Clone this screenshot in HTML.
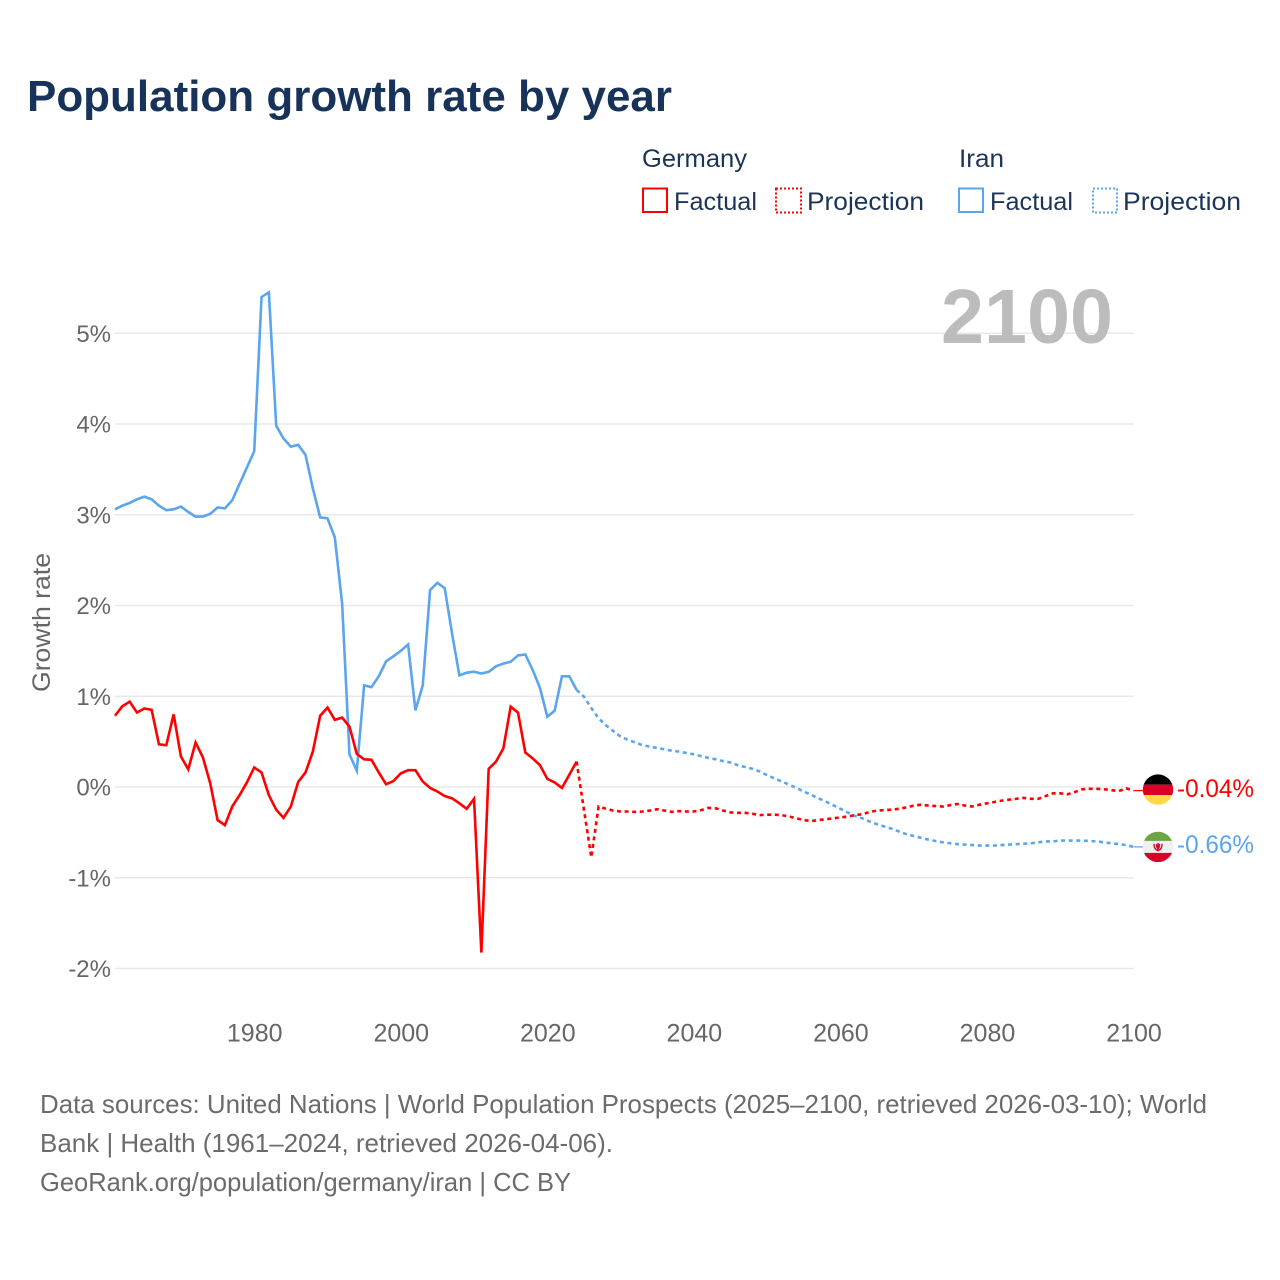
<!DOCTYPE html>
<html lang="en">
<head>
<meta charset="utf-8">
<title>Population growth rate by year</title>
<style>
  html, body { margin: 0; padding: 0; background: #fff; }
  body { width: 1280px; height: 1280px; overflow: hidden; }
  svg { display: block; }
  text { font-family: "Liberation Sans", sans-serif; }
</style>
</head>
<body>
<svg id="chart" xmlns="http://www.w3.org/2000/svg" width="1280" height="1280" viewBox="0 0 1280 1280">
  <defs>
    <clipPath id="flag-clip"><circle cx="0" cy="0" r="15.2"></circle></clipPath>
  </defs>
  <rect x="0" y="0" width="1280" height="1280" fill="#ffffff"></rect>

  <text x="27" y="111" font-size="44" font-weight="700" fill="#17335a" textLength="645" lengthAdjust="spacingAndGlyphs">Population growth rate by year</text>

  <g font-size="25" fill="#1b3557">
    <text x="642" y="167" textLength="105" lengthAdjust="spacingAndGlyphs">Germany</text>
    <text x="959" y="167" textLength="45" lengthAdjust="spacingAndGlyphs">Iran</text>

    <g>
      <rect x="643" y="188.500" width="24" height="23.500" fill="none" stroke="#ff0000" stroke-width="2"></rect>
      <text x="674" y="210" textLength="83" lengthAdjust="spacingAndGlyphs">Factual</text>
    </g>
    <g>
      <rect x="776" y="188.500" width="25" height="24" fill="none" stroke="#ff0000" stroke-width="2" stroke-dasharray="2 2"></rect>
      <text x="807" y="210" textLength="117" lengthAdjust="spacingAndGlyphs">Projection</text>
    </g>
    <g>
      <rect x="959" y="188.500" width="24" height="23.500" fill="none" stroke="#5ba5ee" stroke-width="2"></rect>
      <text x="990" y="210" textLength="83" lengthAdjust="spacingAndGlyphs">Factual</text>
    </g>
    <g>
      <rect x="1093" y="188.500" width="24" height="24" fill="none" stroke="#5ba5ee" stroke-width="2" stroke-dasharray="2 2"></rect>
      <text x="1123" y="210" textLength="118" lengthAdjust="spacingAndGlyphs">Projection</text>
    </g>
  </g>

  <g id="grid"></g>
  <g id="y-ticks"></g>
  <g id="x-ticks"></g>

  <text transform="translate(50 692) rotate(-90)" font-size="25" fill="#666666" textLength="139" lengthAdjust="spacingAndGlyphs">Growth rate</text>

  <text x="941" y="343" font-size="77" font-weight="700" fill="#bcbcbc" textLength="172" lengthAdjust="spacingAndGlyphs">2100</text>

  <g id="series"></g>

  <g id="flag-germany">
    <g clip-path="url(#flag-clip)">
      <rect x="-16" y="-16" width="32" height="11" fill="#000000"></rect>
      <rect x="-16" y="-5" width="32" height="10.500" fill="#d80027"></rect>
      <rect x="-16" y="5.500" width="32" height="11" fill="#ffda44"></rect>
    </g>
  </g>
  <g id="flag-iran">
    <g clip-path="url(#flag-clip)">
      <rect x="-16" y="-16" width="32" height="11" fill="#6da544"></rect>
      <rect x="-16" y="-6" width="32" height="12" fill="#f0f0f0"></rect>
      <rect x="-16" y="6" width="32" height="11" fill="#d80027"></rect>
      <path d="M-4 -3 Q-4 3 0 3.500 Q4 3 4 -3 M-1.500 -3 Q-1.500 1 0 2 Q1.500 1 1.500 -3 M0 -4 V4.500" fill="none" stroke="#d80027" stroke-width="1.300"></path>
    </g>
  </g>
  <text id="label-germany" x="1177" font-size="25" fill="#ff0000" textLength="77" lengthAdjust="spacingAndGlyphs"></text>
  <text id="label-iran" x="1177" font-size="25" fill="#5ba5ee" textLength="77" lengthAdjust="spacingAndGlyphs"></text>

  <g font-size="26" fill="#6b6b6b">
    <text x="40" y="1113" textLength="1167" lengthAdjust="spacingAndGlyphs">Data sources: United Nations | World Population Prospects (2025–2100, retrieved 2026-03-10); World</text>
    <text x="40" y="1152" textLength="573" lengthAdjust="spacingAndGlyphs">Bank | Health (1961–2024, retrieved 2026-04-06).</text>
    <text x="40" y="1191" textLength="531" lengthAdjust="spacingAndGlyphs">GeoRank.org/population/germany/iran | CC BY</text>
  </g>
</svg>

<script>
const factualStartYear = 1961;
const projectionStartYear = 2025;
const yTickValues = [5, 4, 3, 2, 1, 0, -1, -2];
const yTickLabels = ['5%', '4%', '3%', '2%', '1%', '0%', '-1%', '-2%'];
const xTickValues = [1980, 2000, 2020, 2040, 2060, 2080, 2100];
const xTickLabels = ['1980', '2000', '2020', '2040', '2060', '2080', '2100'];

const germanyFactual = [
  0.785, 0.89, 0.94, 0.82, 0.865, 0.85, 0.47, 0.46, 0.80, 0.335,
  0.195, 0.49, 0.325, 0.04, -0.365, -0.42, -0.215, -0.09, 0.05, 0.215,
  0.16, -0.09, -0.25, -0.34, -0.215, 0.055, 0.16, 0.39, 0.785, 0.875,
  0.74, 0.765, 0.665, 0.365, 0.305, 0.30, 0.16, 0.03, 0.065, 0.15,
  0.185, 0.185, 0.06, -0.01, -0.05, -0.10, -0.125, -0.18, -0.24, -0.13,
  -1.825, 0.20, 0.28, 0.425, 0.885, 0.82, 0.38, 0.315, 0.24, 0.09,
  0.05, -0.01, 0.135, 0.28
];
const germanyProjection = [
  -0.25, -0.775, -0.215, -0.24, -0.26, -0.27, -0.27, -0.275, -0.27, -0.26,
  -0.245, -0.26, -0.275, -0.265, -0.27, -0.27, -0.255, -0.23, -0.235, -0.26,
  -0.28, -0.285, -0.285, -0.295, -0.31, -0.305, -0.305, -0.31, -0.325, -0.345,
  -0.365, -0.375, -0.365, -0.355, -0.345, -0.335, -0.325, -0.31, -0.30, -0.275,
  -0.26, -0.255, -0.25, -0.24, -0.225, -0.205, -0.195, -0.205, -0.21, -0.215,
  -0.20, -0.187, -0.205, -0.215, -0.195, -0.18, -0.165, -0.15, -0.14, -0.13,
  -0.12, -0.13, -0.13, -0.10, -0.07, -0.07, -0.08, -0.055, -0.025, -0.02,
  -0.02, -0.025, -0.035, -0.045, -0.015, -0.04
];
const iranFactual = [
  3.06, 3.10, 3.13, 3.17, 3.20, 3.17, 3.10, 3.05, 3.06, 3.09,
  3.03, 2.98, 2.98, 3.01, 3.08, 3.07, 3.16, 3.34, 3.52, 3.70,
  5.40, 5.45, 3.98, 3.84, 3.75, 3.77, 3.66, 3.29, 2.97, 2.96,
  2.75, 2.02, 0.36, 0.18, 1.12, 1.10, 1.22, 1.385, 1.44, 1.50,
  1.57, 0.845, 1.12, 2.17, 2.25, 2.19, 1.69, 1.23, 1.26, 1.27,
  1.25, 1.27, 1.33, 1.36, 1.38, 1.45, 1.46, 1.29, 1.09, 0.775,
  0.84, 1.22, 1.22, 1.07
];
const iranProjection = [
  0.995, 0.87, 0.757, 0.68, 0.617, 0.555, 0.52, 0.49, 0.46, 0.445,
  0.43, 0.415, 0.40, 0.39, 0.375, 0.36, 0.34, 0.32, 0.305, 0.285,
  0.27, 0.24, 0.22, 0.20, 0.17, 0.13, 0.095, 0.06, 0.025, -0.01,
  -0.05, -0.085, -0.125, -0.16, -0.20, -0.24, -0.28, -0.32, -0.345, -0.38,
  -0.41, -0.435, -0.46, -0.49, -0.52, -0.54, -0.56, -0.58, -0.595, -0.61,
  -0.62, -0.63, -0.635, -0.64, -0.645, -0.645, -0.645, -0.64, -0.635, -0.63,
  -0.625, -0.62, -0.61, -0.60, -0.60, -0.59, -0.59, -0.59, -0.59, -0.595,
  -0.60, -0.61, -0.62, -0.63, -0.64, -0.66
];

const NS = 'http://www.w3.org/2000/svg';
const plotLeft = 115;
const plotRight = 1133.5;
const yearMin = 1961;
const yearMax = 2100;
const zeroY = 787;
const pxPerPercent = 90.75;
const RED = '#ff0000';
const BLUE = '#5ba5ee';

function xScale(year) {
  return plotLeft + (year - yearMin) * (plotRight - plotLeft) / (yearMax - yearMin);
}
function yScale(value) {
  return zeroY - value * pxPerPercent;
}
function make(tag, attrs, parent) {
  const el = document.createElementNS(NS, tag);
  Object.keys(attrs).forEach(function (k) { el.setAttribute(k, attrs[k]); });
  parent.appendChild(el);
  return el;
}
function linePath(startYear, values, prefixYear, prefixValue) {
  const pts = [];
  if (prefixYear !== null) {
    pts.push(xScale(prefixYear).toFixed(2) + ',' + yScale(prefixValue).toFixed(2));
  }
  values.forEach(function (v, i) {
    pts.push(xScale(startYear + i).toFixed(2) + ',' + yScale(v).toFixed(2));
  });
  return 'M' + pts.join('L');
}

const gridGroup = document.getElementById('grid');
const yTickGroup = document.getElementById('y-ticks');
const xTickGroup = document.getElementById('x-ticks');
const seriesGroup = document.getElementById('series');

yTickValues.forEach(function (v, i) {
  const line = make('line', {
    x1: plotLeft, x2: plotRight, y1: yScale(v), y2: yScale(v),
    stroke: '#e8e8e8', 'stroke-width': 1.5
  }, gridGroup);
  
  

  const label = make('text', {
    x: 111, y: yScale(v) + 8.500, 'text-anchor': 'end',
    'font-size': 24, fill: '#666666'
  }, yTickGroup);
  
  
  label.textContent = yTickLabels[i];
});

xTickValues.forEach(function (year, i) {
  const label = make('text', {
    x: xScale(year) + 0.500, y: 1041.500, 'text-anchor': 'middle',
    'font-size': 25, fill: '#666666'
  }, xTickGroup);
  
  
  label.textContent = xTickLabels[i];
});

const iranFactualLine = make('path', {
  d: linePath(factualStartYear, iranFactual, null, null),
  fill: 'none', stroke: BLUE, 'stroke-width': 2.6, 'stroke-linejoin': 'miter'
}, seriesGroup);



const iranProjectionLine = make('path', {
  d: linePath(projectionStartYear, iranProjection, projectionStartYear - 1, iranFactual[iranFactual.length - 1]),
  fill: 'none', stroke: BLUE, 'stroke-width': 2.6, 'stroke-dasharray': '4 3.6'
}, seriesGroup);



const germanyFactualLine = make('path', {
  d: linePath(factualStartYear, germanyFactual, null, null),
  fill: 'none', stroke: RED, 'stroke-width': 2.6, 'stroke-linejoin': 'miter'
}, seriesGroup);



const germanyProjectionLine = make('path', {
  d: linePath(projectionStartYear, germanyProjection, projectionStartYear - 1, germanyFactual[germanyFactual.length - 1]),
  fill: 'none', stroke: RED, 'stroke-width': 2.6, 'stroke-dasharray': '4 3.6'
}, seriesGroup);



const germanyLast = germanyProjection[germanyProjection.length - 1];
const iranLast = iranProjection[iranProjection.length - 1];

const germanyConnector = make('line', {
  x1: xScale(yearMax), x2: 1143, y1: yScale(germanyLast), y2: yScale(germanyLast),
  stroke: RED, 'stroke-width': 1.2
}, seriesGroup);



const iranConnector = make('line', {
  x1: xScale(yearMax), x2: 1143, y1: yScale(iranLast), y2: yScale(iranLast),
  stroke: BLUE, 'stroke-width': 1.2
}, seriesGroup);



document.getElementById('flag-germany').setAttribute('transform', 'translate(1158 ' + (yScale(germanyLast) - 1) + ')');
document.getElementById('flag-iran').setAttribute('transform', 'translate(1158 ' + yScale(iranLast) + ')');

const labelGermany = document.getElementById('label-germany');
labelGermany.setAttribute('y', yScale(germanyLast) + 6.5);
labelGermany.textContent = germanyLast.toFixed(2) + '%';

const labelIran = document.getElementById('label-iran');
labelIran.setAttribute('y', yScale(iranLast) + 6);
labelIran.textContent = iranLast.toFixed(2) + '%';
</script>
</body>
</html>
